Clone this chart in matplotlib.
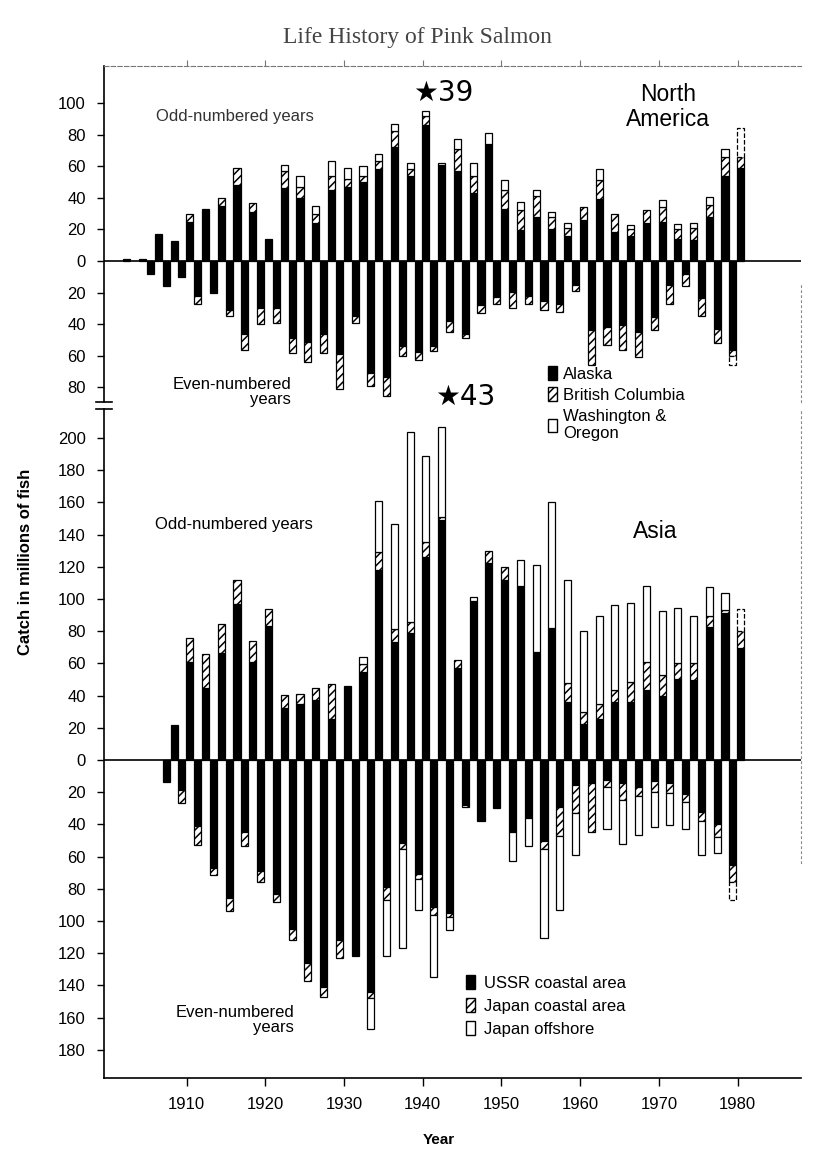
import numpy as np
import matplotlib
matplotlib.use('Agg')
import matplotlib.pyplot as plt
from matplotlib.patches import Patch

plt.rcParams['font.family'] = ['Liberation Sans', 'DejaVu Sans']
plt.rcParams['hatch.linewidth'] = 1.1

# North America, odd years (up) -- Alaska / British Columbia / Washington & Oregon
na_odd_years = np.arange(1901, 1980, 2)
na_odd_alaska = [1, 1.5, 17, 12.5, 25, 33, 35, 48, 31, 14,
                 46, 40, 24, 45, 47, 50, 58, 72, 54, 86,
                 61, 57, 43, 74, 33, 19.5, 28, 20.5, 16, 26,
                 39, 18.5, 16, 24, 24.5, 14, 13.5, 28, 54, 59]
na_odd_bc = [0, 0, 0, 0, 5, 0, 5, 11, 6, 0,
             11, 7, 6, 9, 5, 4, 5, 10, 4, 6,
             0, 14, 11, 0, 12, 13, 13, 7.5, 5, 8.5,
             12, 11.5, 4, 8.5, 10, 6.5, 7.5, 7.5, 12, 7]
na_odd_wo = [0, 0, 0, 0, 0, 0, 0, 0, 0, 0,
             4, 7, 5, 9, 7, 6, 5, 5, 4, 3,
             1, 6, 8, 7, 6, 5, 4, 3, 3, 0,
             7, 0, 3, 0, 4, 3, 3, 5, 5, 18]

# North America, even years (down)
na_even_years = np.arange(1904, 1979, 2)
na_even_alaska = [8, 16, 10, 22, 20, 31, 46, 30, 29.5,
                  48.5, 51, 46, 59, 35, 71, 73.5, 54, 57.5,
                  54, 38, 46, 28, 23, 19.5, 22, 25, 27, 15,
                  43.5, 42, 40.5, 45, 35.5, 15, 8.5, 23.5, 43, 56]
na_even_bc = [0, 0, 0, 5, 0, 3.5, 10, 10, 9.5,
              10, 13, 12, 22, 4, 8, 12, 6, 5,
              3, 7, 3, 5, 4, 10, 5, 6, 5, 4,
              22, 11, 16, 16, 8, 12, 7.5, 11.5, 9, 4]
na_even_wo = [0, 0, 0, 0, 0, 0, 0, 0, 0,
              0, 0, 0, 0, 0, 0, 0, 0, 0,
              0, 0, 0, 0, 0, 0, 0, 0, 0, 0,
              0, 0, 0, 0, 0, 0, 0, 0, 0, 6]

# Asia, odd years (up) -- USSR coastal / Japan coastal / Japan offshore
asia_odd_years = np.arange(1907, 1980, 2)
asia_odd_ussr = [22, 61, 45, 66.5, 97, 61, 83, 32, 35, 37.5,
                 25.5, 46, 54.5, 118, 73.5, 79, 126, 149, 57, 99,
                 122.5, 112, 108, 67, 82, 36, 22.5, 25.5, 36, 36,
                 43.5, 40, 50.5, 49.5, 82.5, 91, 69.5]
asia_odd_jcoast = [0, 15, 21, 18, 14.5, 13, 11, 8.5, 6, 7,
                   22, 0, 5, 11, 8, 7, 9.5, 2, 5, 0,
                   7, 8, 0, 0, 0, 12, 7.5, 9, 7.5, 12.5,
                   17.5, 12.5, 9.5, 10.5, 7, 2, 10.5]
asia_odd_joff = [0, 0, 0, 0, 0, 0, 0, 0, 0, 0,
                 0, 0, 4.5, 32, 65, 118, 53, 56, 0, 2,
                 0, 0, 16, 54, 78, 64, 50, 55, 53, 49,
                 47, 40, 34.5, 29.5, 18, 10.5, 14]

# Asia, even years (down)
asia_even_years = np.arange(1906, 1979, 2)
asia_even_ussr = [13.5, 18.5, 41, 67, 86, 45, 69, 83, 105, 126,
                  141, 112, 121.5, 144, 79, 51.5, 71, 91.5, 95, 28,
                  38, 29, 44.5, 36, 50, 29, 15.5, 14, 12.5, 14,
                  16.5, 13, 14.5, 21, 32, 40, 65]
asia_even_jcoast = [0, 8, 11.5, 4.5, 8, 8.5, 7, 5.5, 7, 11,
                    6, 11, 0, 4, 8, 4, 3, 5, 2.5, 1,
                    0, 1, 0, 0, 5, 18, 17.5, 31, 4, 11,
                    6, 7, 6, 5, 6, 8, 11]
asia_even_joff = [0, 0, 0, 0, 0, 0, 0, 0, 0, 0,
                  0, 0, 0, 19, 34.5, 61.5, 19, 38.5, 8, 0,
                  0, 0, 18, 17.5, 55.5, 46, 26, 0, 26.5, 27,
                  24, 21.5, 20, 17, 21, 10, 11]

decades = [1910, 1920, 1930, 1940, 1950, 1960, 1970, 1980]
na_yticks = [-80, -60, -40, -20, 0, 20, 40, 60, 80, 100]
asia_yticks = [-180, -160, -140, -120, -100, -80, -60, -40, -20, 0,
               20, 40, 60, 80, 100, 120, 140, 160, 180, 200]

# the original drawing places each bar about 1.4 years right of its tick
draft_offset = 1.4
bar_w = 0.9
W, H = 817, 1149


def fx(px):
    return px / W


def fy(py):
    return 1 - py / H


def draw_stack(ax, years, first, second, third, sign):
    x = np.asarray(years) + draft_offset
    a = np.asarray(first, dtype=float)
    b = np.asarray(second, dtype=float)
    c = np.asarray(third, dtype=float)
    last = len(x) - 1
    for i in range(len(x)):
        base = 0
        for val, face, hatch in [(a[i], 'black', None), (b[i], 'white', '////'), (c[i], 'white', None)]:
            if val <= 0:
                continue
            ls = '--' if (i == last and face == 'white' and hatch is None) else '-'
            ax.bar(x[i], sign * val, bottom=sign * base, width=bar_w, color=face,
                   edgecolor='black', hatch=hatch, linewidth=0.9, linestyle=ls, zorder=3)
            base += val


def style_axis(ax, ylim, yticks, right_bounds):
    ax.set_xlim(1899.5, 1988)
    ax.set_ylim(*ylim)
    ax.axhline(0, color='black', lw=1.2, zorder=2)
    ax.set_yticks(yticks)
    ax.set_yticklabels([str(abs(t)) for t in yticks])
    ax.tick_params(axis='y', direction='out', length=5, width=1, pad=8, labelsize=12)
    ax.spines['left'].set_linewidth(1.2)
    ax.spines['right'].set_linestyle((0, (1.5, 3)))
    ax.spines['right'].set_color('#888888')
    ax.spines['right'].set_linewidth(0.8)
    ax.spines['right'].set_bounds(*right_bounds)
    ax.patch.set_alpha(0)


fig = plt.figure(figsize=(W / 100, H / 100), dpi=100)

# North America panel
ax_na = fig.add_axes([fx(104), fy(402), fx(800.6) - fx(104), fy(66) - fy(402)])
draw_stack(ax_na, na_odd_years, na_odd_alaska, na_odd_bc, na_odd_wo, 1)
draw_stack(ax_na, na_even_years, na_even_alaska, na_even_bc, na_even_wo, -1)
style_axis(ax_na, (-89.2, 123.4), na_yticks, (-89, -13))
ax_na.spines['bottom'].set_visible(False)
ax_na.spines['top'].set_linestyle((0, (4, 2)))
ax_na.spines['top'].set_color('#777777')
ax_na.spines['top'].set_linewidth(0.8)
ax_na.xaxis.set_ticks_position('top')
ax_na.set_xticks(decades)
ax_na.tick_params(axis='x', direction='out', length=4, color='#777777', labeltop=False, labelbottom=False)
ax_na.plot([-0.012, 0.012], [0, 0], transform=ax_na.transAxes, color='black', lw=1.2, clip_on=False)

# Asia panel
ax_as = fig.add_axes([fx(104), fy(1078), fx(800.6) - fx(104), fy(409) - fy(1078)])
draw_stack(ax_as, asia_odd_years, asia_odd_ussr, asia_odd_jcoast, asia_odd_joff, 1)
draw_stack(ax_as, asia_even_years, asia_even_ussr, asia_even_jcoast, asia_even_joff, -1)
style_axis(ax_as, (-197.5, 218), asia_yticks, (-64, 218))
ax_as.spines['top'].set_visible(False)
ax_as.spines['bottom'].set_linewidth(1.2)
ax_as.set_xticks(decades)
ax_as.tick_params(axis='x', direction='out', length=6, width=1, pad=8, labelsize=12)
ax_as.plot([-0.012, 0.012], [1, 1], transform=ax_as.transAxes, color='black', lw=1.2, clip_on=False)

# texts
fig.text(fx(417), fy(37), 'Life History of Pink Salmon', ha='center', va='center',
         family='Liberation Serif', fontsize=17, color='#444444')
fig.text(fx(443), fy(93), '★39', ha='center', va='center', fontsize=20, family=['DejaVu Sans'])
fig.text(fx(465), fy(397), '★43', ha='center', va='center', fontsize=20, family=['DejaVu Sans'])
fig.text(fx(235), fy(117), 'Odd-numbered years', ha='center', va='center', fontsize=12, color='#333333')
fig.text(fx(234), fy(524), 'Odd-numbered years', ha='center', va='center', fontsize=12)
fig.text(fx(291), fy(392), 'Even-numbered\nyears', ha='right', va='center', fontsize=12,
         multialignment='right', linespacing=1.0)
fig.text(fx(294), fy(1020), 'Even-numbered\nyears', ha='right', va='center', fontsize=12,
         multialignment='right', linespacing=1.0)
fig.text(fx(668), fy(107), 'North\nAmerica', ha='center', va='center', fontsize=16.5,
         multialignment='center', linespacing=1.15)
fig.text(fx(655), fy(531), 'Asia', ha='center', va='center', fontsize=16.5)
fig.text(fx(26), fy(562), 'Catch in millions of fish', ha='center', va='center', rotation=90,
         fontsize=12, fontweight='bold')
fig.text(fx(439), fy(1140), 'Year', ha='center', va='center', fontsize=11, fontweight='bold')

# legends
na_handles = [Patch(facecolor='black', edgecolor='black'),
              Patch(facecolor='white', edgecolor='black', hatch='////'),
              Patch(facecolor='white', edgecolor='black')]
fig.legend(na_handles, ['Alaska', 'British Columbia', 'Washington &\nOregon'],
           loc='upper left', bbox_to_anchor=(fx(548), fy(366)), frameon=False, fontsize=12,
           handlelength=0.55, handleheight=0.9, handletextpad=0.35, labelspacing=0.35,
           borderaxespad=0, borderpad=0)
asia_handles = [Patch(facecolor='black', edgecolor='black'),
                Patch(facecolor='white', edgecolor='black', hatch='////'),
                Patch(facecolor='white', edgecolor='black')]
fig.legend(asia_handles, ['USSR coastal area', 'Japan coastal area', 'Japan offshore'],
           loc='upper left', bbox_to_anchor=(fx(466), fy(975)), frameon=False, fontsize=12,
           handlelength=0.55, handleheight=0.9, handletextpad=0.5, labelspacing=0.45,
           borderaxespad=0, borderpad=0)

fig.savefig('out.png', dpi=100)
